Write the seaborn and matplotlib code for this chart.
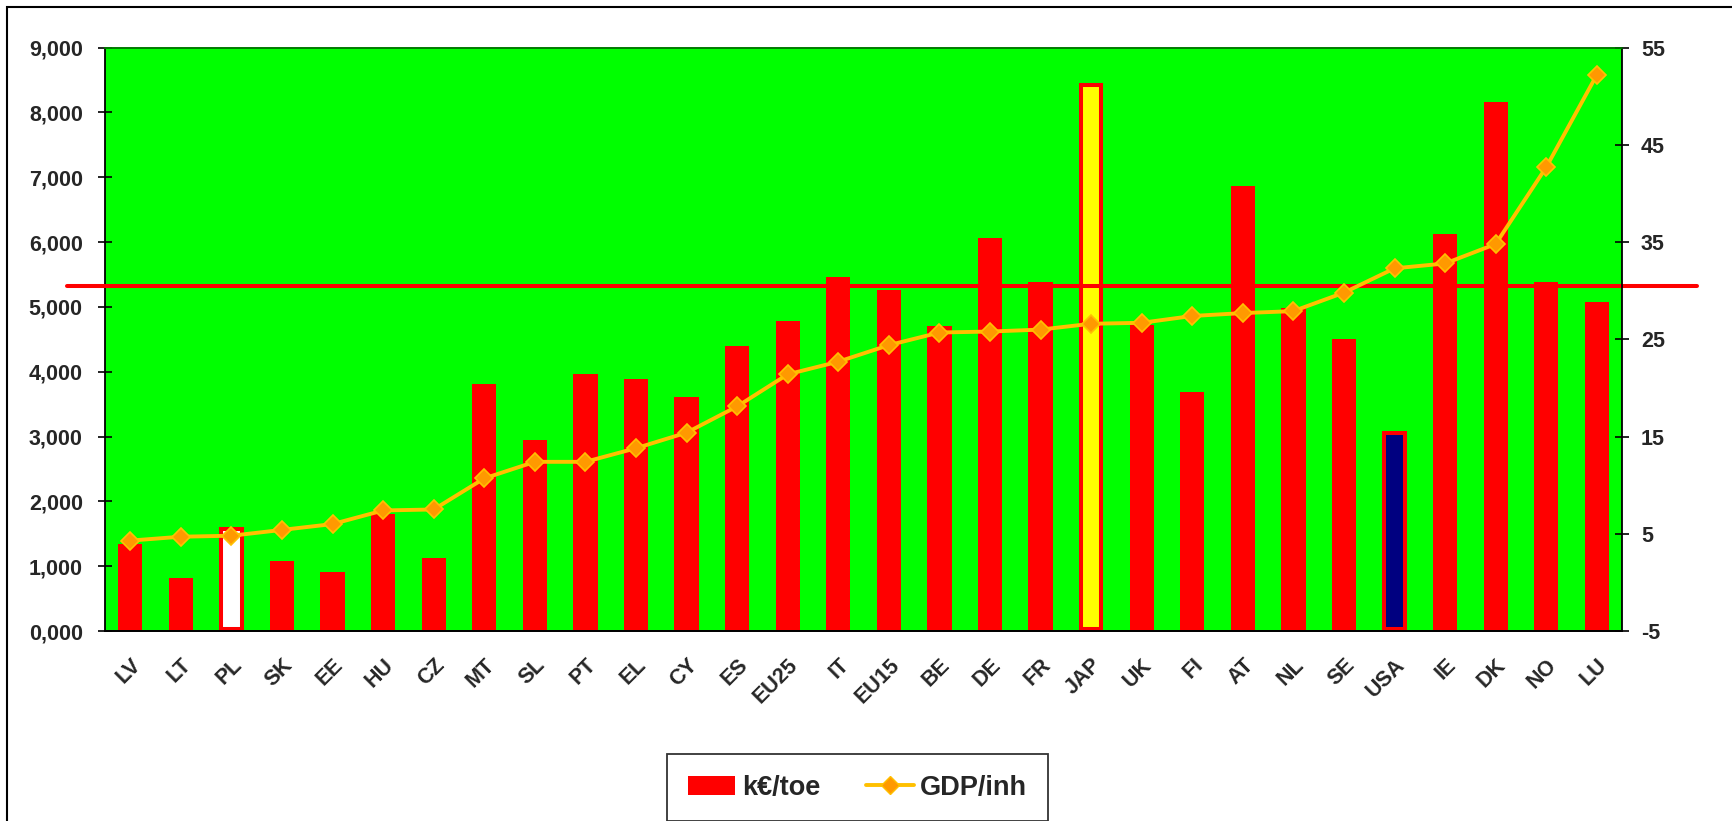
import numpy as np
import pandas as pd
import matplotlib
matplotlib.use("Agg")
import matplotlib.pyplot as plt
import matplotlib.transforms as mtransforms
import seaborn as sns
from matplotlib.patches import Patch, Rectangle
from matplotlib.lines import Line2D
from matplotlib.ticker import FuncFormatter, MultipleLocator, FixedLocator

# energy intensity (k€/toe) and GDP per inhabitant, by country
countries = ["LV", "LT", "PL", "SK", "EE", "HU", "CZ", "MT", "SL", "PT",
             "EL", "CY", "ES", "EU25", "IT", "EU15", "BE", "DE", "FR", "JAP",
             "UK", "FI", "AT", "NL", "SE", "USA", "IE", "DK", "NO", "LU"]
keur_toe = [1350, 820, 1570, 1080, 905, 1810, 1130, 3810, 2950, 3965,
            3895, 3615, 4390, 4790, 5460, 5260, 4705, 6070, 5390, 8425,
            4725, 3690, 6860, 4980, 4500, 3055, 6120, 8165, 5390, 5080]
gdp_inh = [4.3, 4.7, 4.8, 5.4, 6.0, 7.4, 7.5, 10.7, 12.4, 12.4,
           13.8, 15.4, 18.1, 21.4, 22.7, 24.4, 25.7, 25.8, 26.0, 26.6,
           26.7, 27.4, 27.7, 27.9, 29.8, 32.3, 32.8, 34.8, 42.7, 52.2]
gdp_ticks = [-5, 5, 15, 25, 35, 45, 55]
reference_level = 5315

highlight_fill = {"PL": "white", "JAP": "#FFFF00", "USA": "#000080"}

df = pd.DataFrame({"country": countries, "keur": keur_toe, "gdp": gdp_inh})

sns.set_style("white")
plt.rcParams["font.family"] = ["Liberation Sans", "DejaVu Sans"]
plt.rcParams["font.weight"] = "bold"
plt.rcParams["axes.unicode_minus"] = False

fig = plt.figure(figsize=(17.33, 8.21), dpi=100)
ax = fig.add_axes([0.0606, 0.2314, 0.8754, 0.7106])
ax.set_facecolor("#00FF00")

bar_colors = [highlight_fill.get(c, "#FF0000") for c in countries]
sns.barplot(data=df, x="country", y="keur", hue="country", palette=bar_colors,
            legend=False, width=0.48, saturation=1, ax=ax, zorder=2)
# outlined bars: keep the outline inside the bar footprint
for patch, c in zip(ax.patches, countries):
    if c in highlight_fill:
        patch.set_x(patch.get_x() + 0.04)
        patch.set_width(patch.get_width() - 0.08)
        patch.set_height(patch.get_height() - 30)
        patch.set_y(patch.get_y() + 30)
        patch.set_edgecolor("#FF0000")
        patch.set_linewidth(2.9)
    else:
        patch.set_linewidth(0)

ax.axhline(reference_level, xmin=-0.0251, xmax=1.0495, color="#FF0000", lw=2.9,
           clip_on=False, zorder=3)

ax.set_ylim(0, 9000)
ax.set_xlim(-0.5, len(countries) - 0.5)
ax.yaxis.set_major_locator(MultipleLocator(1000))
ax.yaxis.set_major_formatter(FuncFormatter(lambda v, _: f"{int(v) // 1000},{int(v) % 1000:03d}"))
ax.set_xlabel("")
ax.set_ylabel("")
ax.set_xticks(np.arange(len(countries)))
ax.set_xticklabels(countries, rotation=45, ha="right", va="top",
                   rotation_mode="anchor", fontsize=15.5, fontweight="bold")
shift = mtransforms.ScaledTranslation(-17 / 100, 0, fig.dpi_scale_trans)
for lab in ax.get_xticklabels():
    lab.set_transform(lab.get_transform() + shift)
ax.set_xticks(np.arange(len(countries) + 1) - 0.5, minor=True)
ax.tick_params(axis="x", which="major", length=0, pad=17)
ax.tick_params(axis="x", which="minor", length=10, width=1.2, direction="inout", color="black")
ax.tick_params(axis="y", length=10, width=1.2, direction="inout", color="black",
               labelsize=15.5, pad=11, left=True)
for lab in ax.get_yticklabels():
    lab.set_fontweight("bold")

ax2 = ax.twinx()
sns.lineplot(data=df, x="country", y="gdp", sort=False, ax=ax2, color="#FFC000",
             lw=2.8, marker="D", markersize=9.5, markerfacecolor="#FF9900",
             markeredgecolor="#FFC000", markeredgewidth=1.2, zorder=4)
ax2.set_ylim(-5, 55)
ax2.yaxis.set_major_locator(FixedLocator(gdp_ticks))
ax2.set_xlim(-0.5, len(countries) - 0.5)
ax2.set_ylabel("")
ax2.set_xlabel("")
ax2.tick_params(axis="y", length=10, width=1.2, direction="inout", color="black",
                labelsize=15.5, pad=8.6, right=True)
for lab in ax2.get_yticklabels():
    lab.set_fontweight("bold")

for a in (ax, ax2):
    for side in ("left", "bottom", "right"):
        a.spines[side].set_color("black")
        a.spines[side].set_linewidth(1.3)
    a.spines["top"].set_color("#007A00")
    a.spines["top"].set_linewidth(1.2)
ax.spines["right"].set_visible(False)
ax2.spines["left"].set_visible(False)

handles = [Patch(facecolor="#FF0000", edgecolor="none"),
           Line2D([0], [0], color="#FFC000", lw=2.8, marker="D", markersize=9.5,
                  markerfacecolor="#FF9900", markeredgecolor="#FFC000")]
leg = fig.legend(handles, ["k€/toe", "GDP/inh"], loc="center",
                 bbox_to_anchor=(0.4948, 0.0408), ncol=2, frameon=True,
                 fancybox=False, edgecolor="black",
                 handlelength=1.75, handletextpad=0.25, columnspacing=1.7,
                 borderpad=0.75, prop={"weight": "bold", "size": 19.5})
leg.get_frame().set_linewidth(1.3)

fig.patches.append(Rectangle((0.0039, -0.1), 1.2, 1.0915, transform=fig.transFigure,
                             fill=False, edgecolor="black", lw=1.5))

fig.savefig("out.png", dpi=100)
